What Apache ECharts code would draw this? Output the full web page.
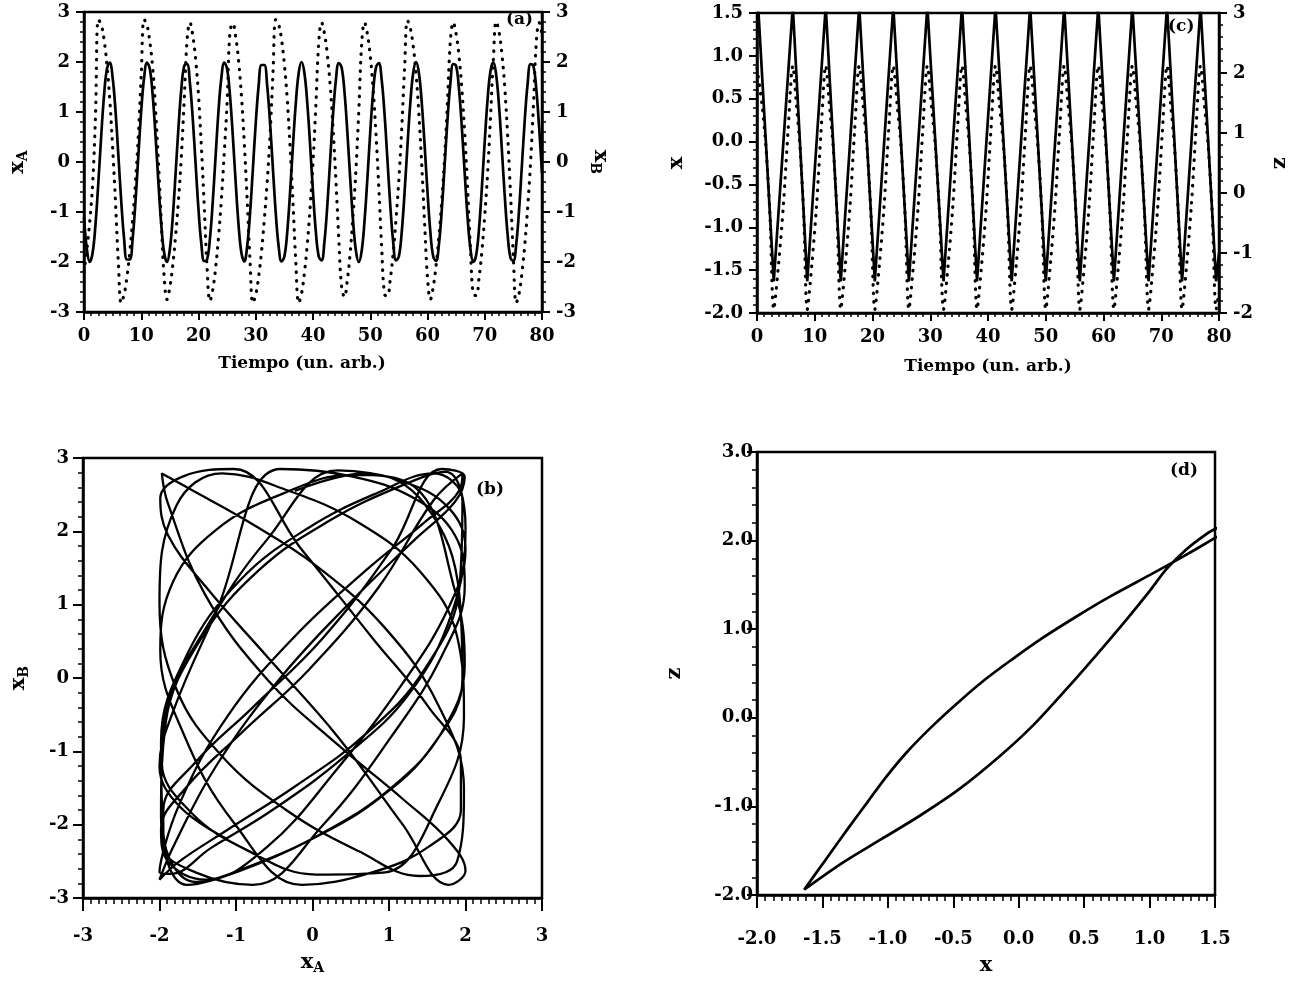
<!DOCTYPE html>
<html><head><meta charset="utf-8">
<script src="https://cdn.jsdelivr.net/npm/echarts@6/dist/echarts.min.js"></script>
<style>html,body{margin:0;padding:0;background:#fff}#c{width:1294px;height:981px}</style>
</head><body><div id="c"></div>
<script>
const FONT = '"DejaVu Serif", "Liberation Serif", serif';

// ---- panel (a) / (b): x_A (solid) and x_B (dotted), sampled every 0.5 time units ----
const timeStepA = 0.5;
const xA = [
 -1.11,-1.74,-2.00,-1.82,-1.26,-0.42,0.51,1.33,1.86,1.99,
 1.69,1.03,0.14,-0.78,-1.53,-1.95,-1.95,-1.53,-0.78,0.14,
 1.03,1.69,1.99,1.86,1.33,0.51,-0.42,-1.26,-1.82,-2.00,
 -1.74,-1.11,-0.23,0.69,1.46,1.92,1.96,1.58,0.86,-0.05,
 -0.95,-1.64,-1.98,-1.95,-1.53,-0.78,0.14,1.03,1.69,1.99,
 1.86,1.33,0.51,-0.42,-1.26,-1.82,-1.99,-1.69,-1.03,-0.14,
 0.78,1.52,1.94,1.94,1.52,0.78,-0.14,-1.03,-1.69,-1.99,
 -1.89,-1.40,-0.60,0.33,1.18,1.78,2.00,1.78,1.18,0.33,
 -0.60,-1.40,-1.89,-1.97,-1.59,-0.87,0.05,0.95,1.64,1.98,
 1.89,1.40,0.60,-0.33,-1.18,-1.78,-2.00,-1.78,-1.18,-0.33,
 0.60,1.40,1.89,1.98,1.64,0.95,0.05,-0.87,-1.59,-1.97,
 -1.89,-1.40,-0.60,0.33,1.18,1.78,2.00,1.78,1.18,0.33,
 -0.60,-1.40,-1.89,-1.98,-1.64,-0.95,-0.05,0.86,1.58,1.96,
 1.92,1.46,0.69,-0.23,-1.11,-1.74,-2.00,-1.86,-1.33,-0.51,
 0.42,1.26,1.82,2.00,1.74,1.11,0.23,-0.69,-1.46,-1.92,
 -1.98,-1.64,-0.95,-0.05,0.86,1.58,1.96,1.92,1.46,0.69,
 -0.23
];
const xB = [
 -2.20,-1.75,-1.20,-0.45,0.90,2.85,2.75,2.45,1.95,1.25,
 0.30,-0.80,-2.00,-2.82,-2.65,-2.30,-1.80,-1.15,-0.40,0.55,
 1.75,2.85,2.74,2.40,1.88,1.05,0.00,-1.20,-2.30,-2.75,
 -2.50,-2.07,-1.48,-0.77,0.11,1.23,2.42,2.79,2.53,2.05,
 1.33,0.32,-0.87,-2.12,-2.78,-2.55,-2.11,-1.50,-0.74,0.19,
 1.20,2.61,2.77,2.50,2.02,1.32,0.38,-0.75,-1.97,-2.82,
 -2.65,-2.30,-1.80,-1.15,-0.40,0.55,1.75,2.85,2.75,2.45,
 1.95,1.25,0.30,-0.80,-2.00,-2.82,-2.63,-2.22,-1.65,-0.91,
 -0.01,1.13,2.38,2.79,2.57,2.15,1.53,0.68,-0.36,-1.52,
 -2.50,-2.70,-2.36,-1.81,-1.07,-0.15,1.03,2.35,2.79,2.56,
 2.12,1.46,0.57,-0.52,-1.72,-2.65,-2.68,-2.34,-1.83,-1.15,
 -0.35,0.67,1.88,2.83,2.68,2.32,1.76,0.96,-0.07,-1.23,
 -2.31,-2.75,-2.50,-2.07,-1.48,-0.77,0.11,1.23,2.42,2.79,
 2.56,2.12,1.46,0.57,-0.52,-1.72,-2.65,-2.67,-2.32,-1.79,
 -1.07,-0.22,0.88,2.05,2.81,2.60,2.15,1.48,0.53,-0.62,
 -1.90,-2.82,-2.63,-2.22,-1.65,-0.91,-0.01,1.13,2.38,2.79,
 2.55
];
const timeA = xA.map((_, i) => i * timeStepA);

// ---- panel (c): x (solid, left axis) and z (dotted, right axis) ----
const cXTime = [0,0.2,2.9,6.2,8.7,11.9,14.5,17.7,20.4,23.6,26.3,29.5,32.3,35.5,38.1,41.3,44.1,47.3,50.0,53.2,55.9,59.1,61.8,65.0,67.8,71.0,73.6,76.8,79.5,80];
const cXVal  = [1.55,1.58,-1.63,1.58,-1.63,1.58,-1.63,1.58,-1.63,1.58,-1.63,1.58,-1.63,1.58,-1.63,1.58,-1.63,1.58,-1.63,1.58,-1.63,1.58,-1.63,1.58,-1.63,1.58,-1.63,1.58,-1.63,-1.30];
const cZTime = [
 0,0.88,1.55,2.23,2.9,
 3.73,4.55,5.38,6.2, 6.83,7.45,8.08,8.7,
 9.5,10.3,11.1,11.9, 12.55,13.2,13.85,14.5,
 15.3,16.1,16.9,17.7, 18.38,19.05,19.73,20.4,
 21.2,22.0,22.8,23.6, 24.28,24.95,25.63,26.3,
 27.1,27.9,28.7,29.5, 30.2,30.9,31.6,32.3,
 33.1,33.9,34.7,35.5, 36.15,36.8,37.45,38.1,
 38.9,39.7,40.5,41.3, 42.0,42.7,43.4,44.1,
 44.9,45.7,46.5,47.3, 47.98,48.65,49.33,50.0,
 50.8,51.6,52.4,53.2, 53.88,54.55,55.23,55.9,
 56.7,57.5,58.3,59.1, 59.78,60.45,61.13,61.8,
 62.6,63.4,64.2,65.0, 65.7,66.4,67.1,67.8,
 68.6,69.4,70.2,71.0, 71.65,72.3,72.95,73.6,
 74.4,75.2,76.0,76.8, 77.48,78.15,78.83,79.5,
 80
];
const cZVal = [
 2.08,1.46,0.76,-0.34,-1.94,
 -1.19,-0.23,1.04,2.12, 1.46,0.76,-0.34,-1.94,
 -1.19,-0.23,1.04,2.12, 1.46,0.76,-0.34,-1.94,
 -1.19,-0.23,1.04,2.12, 1.46,0.76,-0.34,-1.94,
 -1.19,-0.23,1.04,2.12, 1.46,0.76,-0.34,-1.94,
 -1.19,-0.23,1.04,2.12, 1.46,0.76,-0.34,-1.94,
 -1.19,-0.23,1.04,2.12, 1.46,0.76,-0.34,-1.94,
 -1.19,-0.23,1.04,2.12, 1.46,0.76,-0.34,-1.94,
 -1.19,-0.23,1.04,2.12, 1.46,0.76,-0.34,-1.94,
 -1.19,-0.23,1.04,2.12, 1.46,0.76,-0.34,-1.94,
 -1.19,-0.23,1.04,2.12, 1.46,0.76,-0.34,-1.94,
 -1.19,-0.23,1.04,2.12, 1.46,0.76,-0.34,-1.94,
 -1.19,-0.23,1.04,2.12, 1.46,0.76,-0.34,-1.94,
 -1.19,-0.23,1.04,2.12, 1.46,0.76,-0.34,-1.94,
 -1.65
];

// ---- panel (d): z versus x loop ----
const dX = [-1.64,-1.47,-1.29,-1.15,-1.02,-0.85,-0.65,-0.45,-0.25,-0.05,0.16,0.46,0.70,1.00,1.16,1.35,1.50,1.58,
            1.56,1.50,1.42,1.28,1.13,1.00,0.83,0.60,0.35,0.10,-0.15,-0.45,-0.75,-1.05,-1.35,-1.64];
const dZ = [-1.94,-1.59,-1.22,-0.94,-0.68,-0.38,-0.08,0.19,0.44,0.66,0.88,1.16,1.37,1.61,1.74,1.90,2.03,2.10,
            2.16,2.13,2.06,1.90,1.68,1.43,1.12,0.72,0.30,-0.10,-0.44,-0.80,-1.10,-1.37,-1.64,-1.94];

// ---- tick labels ----
const ticksTime = [0,10,20,30,40,50,60,70,80];
const ticksAL = [-3,-2,-1,0,1,2,3];
const ticksAR = [-3,-2,-1,0,1,2,3];
const ticksCX = [-2.0,-1.5,-1.0,-0.5,0.0,0.5,1.0,1.5];
const ticksCZ = [-2,-1,0,1,2,3];
const ticksBX = [-3,-2,-1,0,1,2,3];
const ticksBY = [-3,-2,-1,0,1,2,3];
const ticksDX = [-2.0,-1.5,-1.0,-0.5,0.0,0.5,1.0,1.5];
const ticksDZ = [-2.0,-1.0,0.0,1.0,2.0,3.0];

const BLACK = '#000';
const nameRich = {
  v: {fontSize: 21, fontFamily: FONT, fontWeight: 'bold', color: BLACK, lineHeight: 25},
  s: {fontSize: 14, fontFamily: FONT, fontWeight: 'bold', color: BLACK, lineHeight: 15, verticalAlign: 'bottom'}
};
function valAxis(ticks, dec, gridIndex, o) {
  o = o || {};
  const ax = {
    type: 'value', gridIndex: gridIndex,
    min: ticks[0], max: ticks[ticks.length - 1], interval: +(ticks[1] - ticks[0]).toFixed(6),
    axisLine: {show: true, onZero: false, lineStyle: {color: BLACK, width: 2.5}},
    axisTick: {show: true, inside: false, length: o.tickLen || 8, lineStyle: {color: BLACK, width: 2}},
    minorTick: {show: true, splitNumber: o.minor || 5, length: o.minorLen || 4, lineStyle: {color: BLACK, width: 1.5}},
    splitLine: {show: false}, minorSplitLine: {show: false},
    axisLabel: {color: BLACK, fontFamily: FONT, fontWeight: 'bold', fontSize: 18, margin: o.margin || 14,
      formatter: v => (Math.abs(v) < 1e-9 ? 0 : v).toFixed(dec)},
    name: o.name || '', nameLocation: 'middle', nameGap: o.nameGap || 40,
    nameTextStyle: {color: BLACK, fontFamily: FONT, fontWeight: 'bold', fontSize: o.nameSize || 18, rich: nameRich,
      padding: o.namePad || 0}
  };
  if (o.position) ax.position = o.position;
  if (o.nameRotate !== undefined) ax.nameRotate = o.nameRotate;
  return ax;
}

const grids = [
  {left: 84, top: 12, width: 458, height: 300},
  {left: 757, top: 13, width: 462, height: 300},
  {left: 83, top: 458, width: 459, height: 440},
  {left: 757, top: 452, width: 458, height: 443}
].map(g => Object.assign(g, {show: true, borderColor: BLACK, borderWidth: 2.5, containLabel: false}));

const xAxes = [
  valAxis(ticksTime, 0, 0, {name: 'Tiempo (un. arb.)', nameGap: 43, nameSize: 17, margin: 15, minor: 8, namePad: [0, 22, 0, 0]}),
  valAxis(ticksTime, 0, 1, {name: 'Tiempo (un. arb.)', nameGap: 45, nameSize: 17, margin: 15, minor: 8}),
  valAxis(ticksBX, 0, 2, {name: '{v|x}{s|A}', nameGap: 52, margin: 29, tickLen: 13, minorLen: 6, minor: 10}),
  valAxis(ticksDX, 1, 3, {name: '{v|x}', nameGap: 58, margin: 35, tickLen: 13, minorLen: 6, minor: 8})
];
const yAxes = [
  valAxis(ticksAL, 0, 0, {name: '{v|x}{s|A}', nameGap: 54}),
  valAxis(ticksAR, 0, 0, {name: '{v|x}{s|B}', nameGap: 46, position: 'right', nameRotate: -90}),
  valAxis(ticksCX, 1, 1, {name: '{v|x}', nameGap: 68}),
  valAxis(ticksCZ, 0, 1, {name: '{v|z}', nameGap: 48, position: 'right', nameRotate: -90}),
  valAxis(ticksBY, 0, 2, {name: '{v|x}{s|B}', nameGap: 52, tickLen: 10, minorLen: 5, margin: 14}),
  valAxis(ticksDZ, 1, 3, {name: '{v|z}', nameGap: 70, tickLen: 10, minorLen: 5, margin: 4})
];

const solid = {color: BLACK, width: 2.7};
const dotted = {color: BLACK, width: 3.2, type: [0.5, 8], cap: 'round'};
const base = {type: 'line', symbol: 'none', silent: true, animation: false};

const series = [
  Object.assign({}, base, {xAxisIndex: 0, yAxisIndex: 0, smooth: 0.4, lineStyle: solid,
    data: timeA.map((t, i) => [t, xA[i]])}),
  Object.assign({}, base, {xAxisIndex: 0, yAxisIndex: 1, smooth: 0.4, lineStyle: dotted,
    data: timeA.map((t, i) => [t, xB[i]])}),
  Object.assign({}, base, {xAxisIndex: 1, yAxisIndex: 2, smooth: false, lineStyle: solid,
    data: cXTime.map((t, i) => [t, cXVal[i]])}),
  Object.assign({}, base, {xAxisIndex: 1, yAxisIndex: 3, smooth: 0.3, lineStyle: dotted,
    data: cZTime.map((t, i) => [t, cZVal[i]])}),
  Object.assign({}, base, {xAxisIndex: 2, yAxisIndex: 4, smooth: 0.4, lineStyle: {color: BLACK, width: 2.3},
    data: xA.map((v, i) => [v, xB[i]])}),
  Object.assign({}, base, {xAxisIndex: 3, yAxisIndex: 5, smooth: 0.3, lineStyle: {color: BLACK, width: 2.7},
    data: dX.map((v, i) => [v, dZ[i]])})
];

const panelText = (txt, x, y) => ({type: 'text', left: x, top: y, silent: true,
  style: {text: txt, font: 'bold 17px ' + FONT, fill: BLACK}});

const chart = echarts.init(document.getElementById('c'), null, {renderer: 'canvas'});
chart.setOption({
  backgroundColor: '#fff',
  animation: false,
  grid: grids,
  xAxis: xAxes,
  yAxis: yAxes,
  series: series,
  graphic: [
    panelText('(a)', 506, 11),
    panelText('(b)', 476, 481),
    panelText('(c)', 1168, 18),
    panelText('(d)', 1170, 462)
  ]
});
</script></body></html>
